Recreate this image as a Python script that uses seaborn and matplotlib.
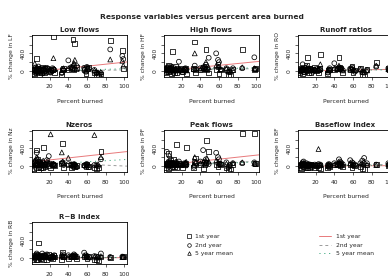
import numpy as np
import pandas as pd
import seaborn as sns
import matplotlib
matplotlib.use("Agg")
import matplotlib.pyplot as plt
from matplotlib.lines import Line2D

nan = np.nan

# ---------------- data ----------------
percent_burned = [3, 4, 5, 6, 6, 7, 8, 9, 10, 11, 12, 13, 14, 15, 17, 19, 21, 23, 24, 25,
                  33, 34, 35, 40, 43, 45, 46, 47, 49, 57, 59, 60, 62, 68, 70, 72, 75, 85, 98, 99]

series_names = ["1st year", "2nd year", "5 year mean"]
panel_titles = ["Low flows", "High flows", "Runoff ratios", "Nzeros", "Peak flows",
                "Baseflow index", "R\u2212B index"]
panel_codes = ["LF", "HF", "RO", "Nz", "PF", "BF", "RB"]

lf_y1 = [-60, 40, 10, 290, -40, 60, 20, -80, 30, -50, 80, 0, -30, 50, 60, -20, 10, 40, 780, -40,
         -90, 20, 50, 20, 60, 720, 30, 630, 80, 40, -60, 50, 90, -30, -80, -90, -70, 700, 460, 60]
lf_y2 = [20, -40, 80, 60, 10, -30, 100, 40, -20, 30, -60, 50, 20, -10, 70, 30, -40, 60, 40, 20,
         -50, 40, 10, 240, 80, 60, 120, 40, 110, 70, -20, 90, 50, 20, -40, -60, -50, 490, 340, 270]
lf_y3 = [10, 170, 30, -20, 50, 20, -10, 60, 40, 10, 30, -30, 60, 20, 40, 10, 30, 20, 290, 40,
         -30, 30, 60, 60, 90, 130, 180, 250, 40, 50, 0, 70, 40, 10, -20, -40, -30, 260, 230, 120]

hf_y1 = [-40, 50, 80, -20, 130, 30, 60, -60, 436, 20, -30, 100, 40, -50, 20, 60, -20, 30, 50, -70,
         50, 660, -40, 20, 80, 60, 490, 30, -50, 40, 150, -60, 20, 40, -80, -90, 30, 497, 30, 60]
hf_y2 = [30, -30, 60, 100, 10, -20, 40, 80, 20, -40, 60, 30, 10, 50, 210, 20, -30, 40, 60, 20,
         30, 120, 40, 60, 80, 90, 140, 50, 300, 400, 250, 200, 30, 60, -20, -30, 60, 60, 310, 40]
hf_y3 = [10, 20, 40, 30, 60, 10, 30, 20, 100, 0, 20, 40, 30, 10, 60, 30, 10, 20, 40, 10,
         40, 400, 20, 30, 60, 50, 200, 40, 80, 120, 100, 90, 40, 50, -10, -20, 20, 80, 60, 40]

ro_y1 = [-40, 60, 20, -60, 30, 80, -20, 40, 120, 310, -30, 50, 20, -50, 30, 80, 10, -40, 60, 377,
         -60, 20, 40, 30, 60, 310, 90, 50, -30, 40, 100, -50, 20, 60, -80, -90, 30, 200, 50, 40]
ro_y2 = [20, -20, 40, 150, 10, -30, 30, 60, 20, -10, 40, 10, 30, 50, -20, 20, 40, 10, 30, 20,
         -40, 30, 60, 174, 40, 80, 30, 60, 20, 50, 80, 30, -20, 40, -30, -40, 20, 100, 60, 30]
ro_y3 = [0, 20, 30, 10, 40, 20, 10, 30, 50, 100, 10, 20, 30, 10, 20, 40, 10, 20, 30, 150,
         -20, 10, 30, 60, 40, 120, 50, 60, 10, 30, 60, 20, 10, 30, -20, -30, 10, 120, 40, 30]

nz_y1 = [-60, 80, 20, 361, -40, 150, -80, 60, -50, 20, -30, 414, 40, -20, 60, 10, -40, 30, 20, 10,
         50, 515, -30, 20, -40, 30, 10, -20, 0, 20, -10, 30, -20, -40, -60, -30, 322, nan, nan, nan]
nz_y2 = [40, -20, 120, 300, 60, 10, 100, -40, 80, 30, 20, 60, -10, 40, 130, 223, 50, 20, 40, 10,
         60, 80, 20, 40, 30, -20, 40, 20, -30, 10, 30, 40, -30, 20, 10, -10, 150, nan, nan, nan]
nz_y3 = [20, 100, 60, 200, 40, 180, 20, 40, 60, 90, 30, 120, 20, 60, 100, 80, 722, 30, 50, 20,
         308, 100, 60, 184, 40, 10, 30, 40, 10, 20, 0, 30, 20, 706, 20, 40, 200, nan, nan, nan]

pf_y1 = [-40, 60, 20, 285, -60, 80, 120, -30, 50, 150, -20, 30, 492, -50, 60, 20, -40, 40, 60, 415,
         -30, 20, 180, 40, -60, 30, 80, 585, 323, 40, -20, 60, 30, -50, -80, -70, 40, 746, 746, 60]
pf_y2 = [30, 323, 60, 100, -20, 40, 80, 20, -30, 60, 40, 10, 80, 50, 100, 40, 20, 60, 30, 10,
         -20, 90, 60, 100, 360, 80, 150, 60, 40, 300, 200, 150, 40, 80, -30, 20, 60, 60, 80, 40]
pf_y3 = [10, 60, 40, 80, 20, 246, 60, 30, 40, 80, 20, 40, 100, 30, 60, 20, 40, 50, 80, 90,
         30, 200, 80, 60, 100, 60, 120, 180, 100, 120, 90, 60, 40, 50, 0, 10, 60, 80, 60, 40]

bf_y1 = [-40, 20, -60, 30, 60, -20, 40, -50, 10, -30, 20, -40, 30, -10, 20, -50, 10, -30, 20, -60,
         -40, 10, -20, 20, 30, 60, 10, 40, -20, 30, -30, 20, 10, -20, -60, -80, 20, 30, 10, 20]
bf_y2 = [20, -10, 40, 80, 20, 100, 30, 10, 60, 20, 40, 10, 30, 20, 10, 30, 20, 40, 10, 30,
         20, 40, 30, 60, 40, 150, 100, 80, 40, 130, 80, 60, 30, 60, 120, 180, 60, 30, 60, 40]
bf_y3 = [10, 20, 10, 40, 20, 60, 10, 20, 30, 10, 20, 0, 20, 10, 20, 10, 0, 385, 10, 20,
         0, 20, 10, 30, 20, 80, 50, 60, 20, 60, 40, 30, 10, 30, 60, 100, 30, 20, 40, 30]

rb_y1 = [-40, 60, 20, -30, 80, -50, 340, 40, -20, 30, 60, -40, 20, 50, -30, 80, 10, -20, 60, 20,
         -30, 130, 40, -20, 30, 60, 20, 40, -10, 20, 30, -20, 40, -30, -50, -60, 20, 10, 20, 30]
rb_y2 = [20, -20, 40, 100, 10, 60, 30, -10, 40, 20, 100, 30, 60, 20, 80, 40, 10, 30, 20, 60,
         40, 80, 30, 60, 20, 40, 80, 60, 30, 120, 60, 40, 20, 40, 30, 20, 100, 20, 30, 20]
rb_y3 = [10, 20, 30, 40, 20, 30, 60, 20, 10, 30, 40, 20, 30, 10, 40, 20, 10, 20, 30, 20,
         30, 60, 20, 30, 20, 40, 30, 40, 20, 60, 30, 20, 10, 30, 10, 10, 40, 10, 20, 20]

# fitted line coefficients (intercept, slope) per panel: 1st year, 2nd year, 5 year mean
fit_intercepts = {"LF": [-29, 0, -12], "HF": [0, 30, 20], "RO": [-5, 10, 5],
                  "Nz": [90, 90, 18], "PF": [15, 20, 0], "BF": [-5, 10, 5], "RB": [-5, 20, 10]}
fit_slopes = {"LF": [2.27, 0.2, 0.6], "HF": [2.1, 0.2, 0.5], "RO": [0.4, 0.2, 0.2],
              "Nz": [2.3, -0.93, 1.25], "PF": [2.3, 0.8, 0.9], "BF": [0.1, 0.2, 0.1],
              "RB": [0.1, 0.0, 0.0]}

panel_values = {
    "LF": [lf_y1, lf_y2, lf_y3], "HF": [hf_y1, hf_y2, hf_y3], "RO": [ro_y1, ro_y2, ro_y3],
    "Nz": [nz_y1, nz_y2, nz_y3], "PF": [pf_y1, pf_y2, pf_y3], "BF": [bf_y1, bf_y2, bf_y3],
    "RB": [rb_y1, rb_y2, rb_y3],
}

# ---------------- style ----------------
sns.set_style("ticks")
plt.rcParams["font.family"] = ["DejaVu Sans"]
plt.rcParams["axes.linewidth"] = 0.6
plt.rcParams["xtick.major.width"] = 0.5
plt.rcParams["ytick.major.width"] = 0.5
plt.rcParams["xtick.major.size"] = 2.2
plt.rcParams["ytick.major.size"] = 2.2
plt.rcParams["xtick.major.pad"] = 3.2
plt.rcParams["ytick.major.pad"] = 2.5

W, H = 388, 276
fig = plt.figure(figsize=(W / 100, H / 100), dpi=100)
fig.patch.set_facecolor("white")

markers = ["s", "o", "^"]
line_colors = ["#e8797b", "#9a9a9a", "#1f9a6a"]
line_styles = ["-", (0, (3, 3)), (0, (1, 4))]

col_left = [32, 164, 298]
row_top = [35, 130, 222]
ax_w, ax_h = 95, 42

for k, code in enumerate(panel_codes):
    r, c = divmod(k, 3)
    ax = fig.add_axes([col_left[c] / W, 1 - (row_top[r] + ax_h) / H, ax_w / W, ax_h / H])
    for s, name in enumerate(series_names):
        df = pd.DataFrame({"x": percent_burned, "y": panel_values[code][s]}).dropna()
        sns.scatterplot(data=df, x="x", y="y", marker=markers[s], s=12,
                        facecolors="none", edgecolor="black", linewidth=0.55,
                        ax=ax, legend=False, zorder=3)
    for s in range(3):
        ax.axline((0, fit_intercepts[code][s]), slope=fit_slopes[code][s],
                  color=line_colors[s], linestyle=line_styles[s], linewidth=0.7, zorder=2)
    ax.set_xlim(1, 103)
    ax.set_ylim(-140, 820)
    ax.set_xticks([20, 40, 60, 80, 100])
    ax.set_xticklabels(["20", "40", "60", "80", "100"], fontsize=4.3)
    ax.set_yticks([0, 200, 400, 600, 800])
    ax.set_yticklabels(["0", "", "400", "", ""], fontsize=4.3, rotation=90, va="center")
    ax.set_xlabel("Percent burned", fontsize=4.3, labelpad=7)
    ax.set_ylabel("% change in " + code, fontsize=4.3, labelpad=5)
    ax.set_title(panel_titles[k], fontsize=5, fontweight="bold", pad=2.5)
    for sp in ax.spines.values():
        sp.set_visible(True)
        sp.set_color("black")

fig.text(202 / W, 1 - 17 / H, "Response variables versus percent area burned",
         ha="center", va="center", fontsize=5.4, fontweight="bold")

pt_handles = [Line2D([], [], marker=m, linestyle="none", markerfacecolor="none",
                     markeredgecolor="black", markersize=2.6, markeredgewidth=0.5)
              for m in markers]
fig.legend(pt_handles, series_names, loc="upper left",
           bbox_to_anchor=(183 / W, 1 - 231 / H), frameon=False, fontsize=4.3,
           handlelength=1.0, handletextpad=0.5, labelspacing=0.55, borderpad=0)

ln_handles = [Line2D([], [], color=line_colors[s], linestyle=line_styles[s], linewidth=0.7)
              for s in range(3)]
fig.legend(ln_handles, series_names, loc="upper left",
           bbox_to_anchor=(316 / W, 1 - 231 / H), frameon=False, fontsize=4.3,
           handlelength=2.0, handletextpad=0.8, labelspacing=0.55, borderpad=0)

fig.savefig("out.png", dpi=100, facecolor="white")
